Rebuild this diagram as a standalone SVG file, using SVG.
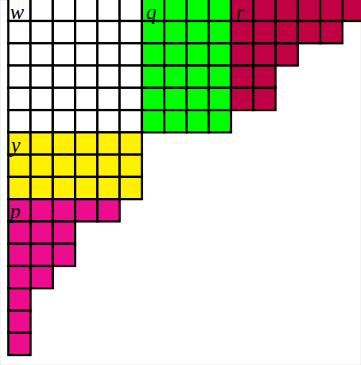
<svg xmlns="http://www.w3.org/2000/svg" width="361" height="365" viewBox="0 0 361 365">
<style>
.w rect{fill:#fff}
.g rect{fill:#00ff00}
.r rect{fill:#c10045}
.y rect{fill:#fff100}
.p rect{fill:#ed0c8e}
rect{stroke:#000;stroke-width:0.1}
text{font-family:"Liberation Serif",serif;font-style:italic;font-size:21px;fill:#000}
</style>
<rect width="361" height="365" fill="#fff" stroke="none"/>
<g transform="translate(8.3 -1.27) scale(22.27)">
<g id="w" class="w">
<rect x="0" y="0" width="1" height="1"/><rect x="1" y="0" width="1" height="1"/><rect x="2" y="0" width="1" height="1"/><rect x="3" y="0" width="1" height="1"/><rect x="4" y="0" width="1" height="1"/><rect x="5" y="0" width="1" height="1"/>
<rect x="0" y="1" width="1" height="1"/><rect x="1" y="1" width="1" height="1"/><rect x="2" y="1" width="1" height="1"/><rect x="3" y="1" width="1" height="1"/><rect x="4" y="1" width="1" height="1"/><rect x="5" y="1" width="1" height="1"/>
<rect x="0" y="2" width="1" height="1"/><rect x="1" y="2" width="1" height="1"/><rect x="2" y="2" width="1" height="1"/><rect x="3" y="2" width="1" height="1"/><rect x="4" y="2" width="1" height="1"/><rect x="5" y="2" width="1" height="1"/>
<rect x="0" y="3" width="1" height="1"/><rect x="1" y="3" width="1" height="1"/><rect x="2" y="3" width="1" height="1"/><rect x="3" y="3" width="1" height="1"/><rect x="4" y="3" width="1" height="1"/><rect x="5" y="3" width="1" height="1"/>
<rect x="0" y="4" width="1" height="1"/><rect x="1" y="4" width="1" height="1"/><rect x="2" y="4" width="1" height="1"/><rect x="3" y="4" width="1" height="1"/><rect x="4" y="4" width="1" height="1"/><rect x="5" y="4" width="1" height="1"/>
<rect x="0" y="5" width="1" height="1"/><rect x="1" y="5" width="1" height="1"/><rect x="2" y="5" width="1" height="1"/><rect x="3" y="5" width="1" height="1"/><rect x="4" y="5" width="1" height="1"/><rect x="5" y="5" width="1" height="1"/>
</g>
<g id="q" class="g">
<rect x="6" y="0" width="1" height="1"/><rect x="7" y="0" width="1" height="1"/><rect x="8" y="0" width="1" height="1"/><rect x="9" y="0" width="1" height="1"/>
<rect x="6" y="1" width="1" height="1"/><rect x="7" y="1" width="1" height="1"/><rect x="8" y="1" width="1" height="1"/><rect x="9" y="1" width="1" height="1"/>
<rect x="6" y="2" width="1" height="1"/><rect x="7" y="2" width="1" height="1"/><rect x="8" y="2" width="1" height="1"/><rect x="9" y="2" width="1" height="1"/>
<rect x="6" y="3" width="1" height="1"/><rect x="7" y="3" width="1" height="1"/><rect x="8" y="3" width="1" height="1"/><rect x="9" y="3" width="1" height="1"/>
<rect x="6" y="4" width="1" height="1"/><rect x="7" y="4" width="1" height="1"/><rect x="8" y="4" width="1" height="1"/><rect x="9" y="4" width="1" height="1"/>
<rect x="6" y="5" width="1" height="1"/><rect x="7" y="5" width="1" height="1"/><rect x="8" y="5" width="1" height="1"/><rect x="9" y="5" width="1" height="1"/>
</g>
<g id="r" class="r">
<rect x="10" y="0" width="1" height="1"/><rect x="11" y="0" width="1" height="1"/><rect x="12" y="0" width="1" height="1"/><rect x="13" y="0" width="1" height="1"/><rect x="14" y="0" width="1" height="1"/><rect x="15" y="0" width="1" height="1"/>
<rect x="10" y="1" width="1" height="1"/><rect x="11" y="1" width="1" height="1"/><rect x="12" y="1" width="1" height="1"/><rect x="13" y="1" width="1" height="1"/><rect x="14" y="1" width="1" height="1"/>
<rect x="10" y="2" width="1" height="1"/><rect x="11" y="2" width="1" height="1"/><rect x="12" y="2" width="1" height="1"/>
<rect x="10" y="3" width="1" height="1"/><rect x="11" y="3" width="1" height="1"/>
<rect x="10" y="4" width="1" height="1"/><rect x="11" y="4" width="1" height="1"/>
</g>
<g id="y" class="y">
<rect x="0" y="6" width="1" height="1"/><rect x="1" y="6" width="1" height="1"/><rect x="2" y="6" width="1" height="1"/><rect x="3" y="6" width="1" height="1"/><rect x="4" y="6" width="1" height="1"/><rect x="5" y="6" width="1" height="1"/>
<rect x="0" y="7" width="1" height="1"/><rect x="1" y="7" width="1" height="1"/><rect x="2" y="7" width="1" height="1"/><rect x="3" y="7" width="1" height="1"/><rect x="4" y="7" width="1" height="1"/><rect x="5" y="7" width="1" height="1"/>
<rect x="0" y="8" width="1" height="1"/><rect x="1" y="8" width="1" height="1"/><rect x="2" y="8" width="1" height="1"/><rect x="3" y="8" width="1" height="1"/><rect x="4" y="8" width="1" height="1"/><rect x="5" y="8" width="1" height="1"/>
</g>
<g id="p" class="p">
<rect x="0" y="9" width="1" height="1"/><rect x="1" y="9" width="1" height="1"/><rect x="2" y="9" width="1" height="1"/><rect x="3" y="9" width="1" height="1"/><rect x="4" y="9" width="1" height="1"/>
<rect x="0" y="10" width="1" height="1"/><rect x="1" y="10" width="1" height="1"/><rect x="2" y="10" width="1" height="1"/>
<rect x="0" y="11" width="1" height="1"/><rect x="1" y="11" width="1" height="1"/><rect x="2" y="11" width="1" height="1"/>
<rect x="0" y="12" width="1" height="1"/><rect x="1" y="12" width="1" height="1"/>
<rect x="0" y="13" width="1" height="1"/>
<rect x="0" y="14" width="1" height="1"/>
<rect x="0" y="15" width="1" height="1"/>
</g>
</g>
<g id="labels">
<text x="10" y="18.8">w</text>
<text x="146" y="18.8">q</text>
<text x="236" y="18.8">r</text>
<text x="11" y="151.5">y</text>
<text x="10" y="218.3">p</text>
</g>
</svg>
